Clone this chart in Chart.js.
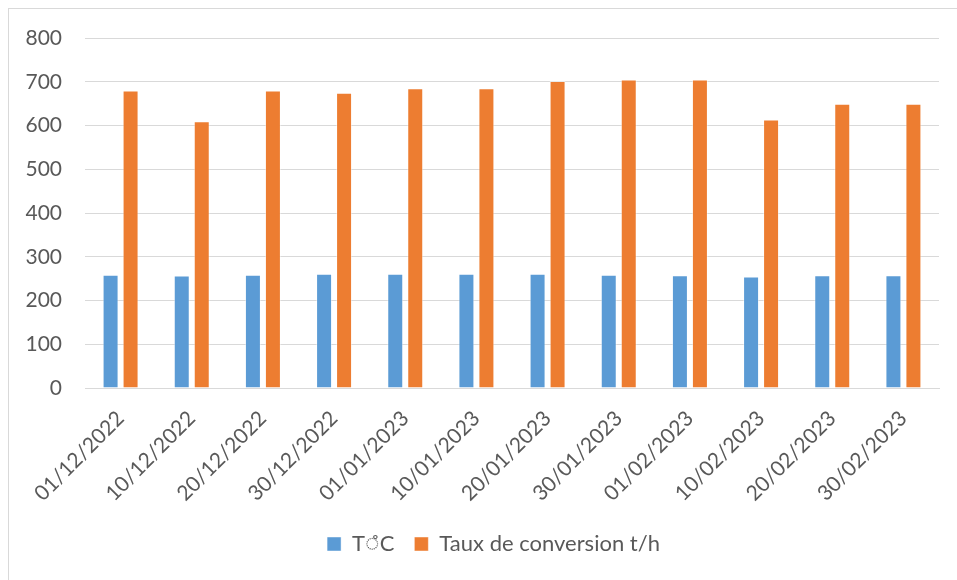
<!DOCTYPE html>
<html>
<head>
<meta charset="utf-8">
<script src="https://cdn.jsdelivr.net/npm/chart.js@4/dist/chart.umd.min.js"></script>
<style>
  html, body { margin: 0; padding: 0; background: #fff; overflow: hidden; }
  #frame { position: absolute; left: 8px; top: 8px; width: 1000px; height: 1000px; border: 1px solid #d9d9d9; box-sizing: border-box; }
  #wrap { position: absolute; left: 0; top: 0; width: 957px; height: 580px; }
</style>
</head>
<body>
<div id="frame"></div>
<div id="wrap"><canvas id="c" width="957" height="580"></canvas></div>
<script>
// Sampling dates
const dates = ['01/12/2022', '10/12/2022', '20/12/2022', '30/12/2022', '01/01/2023', '10/01/2023',
               '20/01/2023', '30/01/2023', '01/02/2023', '10/02/2023', '20/02/2023', '30/02/2023'];
// Temperature series
const temperature = [259, 257, 259, 261, 261, 261, 261, 259, 258, 255, 258, 258];
// Conversion rate series (t/h)
const conversionRate = [680, 610, 680, 675, 685, 685, 702, 705, 705, 614, 650, 650];
// Value axis ticks
const yTicks = [0, 100, 200, 300, 400, 500, 600, 700, 800];

const labelColor = '#595959';
const gridColor = '#d9d9d9';
const family = 'Lato, "Liberation Sans", sans-serif';

// Nudge the legend row sideways after layout
const legendShift = {
  id: 'legendShift',
  afterLayout(chart) {
    if (chart.legend) { chart.legend.left += 24; chart.legend.right += 24; }
  }
};

new Chart(document.getElementById('c'), {
  type: 'bar',
  data: {
    labels: dates,
    datasets: [
      { label: 'T\u25CC\u030AC', data: temperature, backgroundColor: '#5B9BD5',
        borderColor: 'rgba(255,255,255,0.45)', borderWidth: 1 },
      { label: 'Taux de conversion t/h', data: conversionRate, backgroundColor: '#ED7D31',
        borderColor: 'rgba(255,255,255,0.45)', borderWidth: 1 }
    ]
  },
  plugins: [legendShift],
  options: {
    responsive: false,
    animation: false,
    devicePixelRatio: 1,
    layout: { padding: { top: 38, left: 0, right: 18, bottom: 15 } },
    datasets: { bar: { categoryPercentage: 0.562, barPercentage: 0.8 } },
    plugins: {
      legend: {
        position: 'bottom',
        labels: { color: labelColor, font: { family, size: 22 }, boxWidth: 14, boxHeight: 14, padding: 20 }
      },
      tooltip: { enabled: false }
    },
    scales: {
      x: {
        grid: { display: false },
        border: { display: true, color: gridColor, width: 1 },
        ticks: { color: labelColor, font: { family, size: 21 }, minRotation: 45, maxRotation: 45, padding: 10 },
        afterFit: (s) => { s.height = 125; }
      },
      y: {
        min: 0, max: 800,
        afterBuildTicks: (s) => { s.ticks = yTicks.map(v => ({ value: v })); },
        grid: { color: gridColor, lineWidth: 1, drawTicks: false },
        border: { display: false },
        ticks: { color: labelColor, font: { family, size: 21 }, padding: 23 },
        afterFit: (s) => { s.width = 85; }
      }
    }
  }
});
</script>
</body>
</html>
